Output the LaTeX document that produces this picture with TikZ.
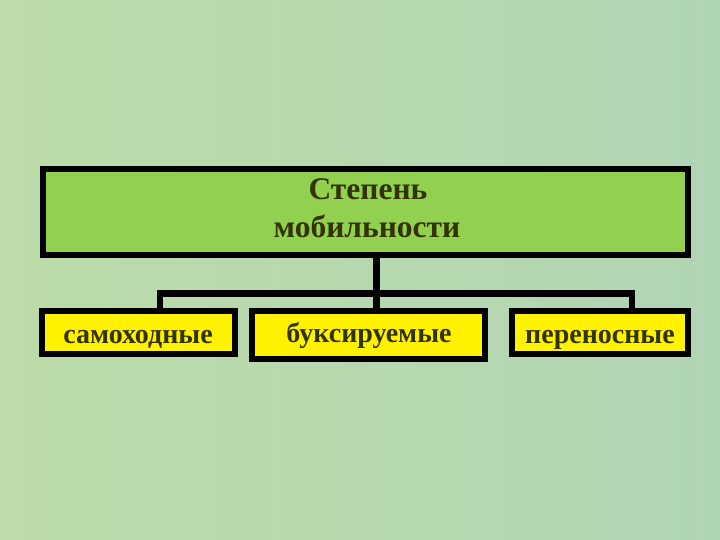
\documentclass[tikz,border=0pt]{standalone}
\usepackage{fontspec}
\setmainfont{Liberation Serif}
\begin{document}
\begin{tikzpicture}[x=1pt,y=-1pt,
  box/.style={draw=black,line width=6pt,inner sep=0pt},
  lbl/.style={anchor=base,inner sep=0pt,text=txt,font=\bfseries\fontsize{28}{32}\selectfont},
  toplbl/.style={lbl,font=\bfseries\fontsize{31.5}{36}\selectfont},
  link/.style={draw=black,line width=6.5pt}]
\definecolor{bg}{RGB}{184,216,174}
\definecolor{bgA}{RGB}{194,222,166}
\definecolor{bgB}{RGB}{172,212,186}
\definecolor{topfill}{RGB}{146,208,80}
\definecolor{txt}{RGB}{51,51,0}
\useasboundingbox (0,0) rectangle (720,540);
\shade[left color=bgA,right color=bgB] (0,0) rectangle (720,540);
\fill[bg,opacity=0.4] (0,0) rectangle (720,540);
\coordinate (j) at (376.5,293.5);
\coordinate (jl) at (160,293.5);
\coordinate (jr) at (632,293.5);
\node[box,fill=topfill,minimum width=645pt,minimum height=86pt] (top) at (365.5,212) {};
\draw[link] (top.south -| j) -- (j);
\draw[link,line cap=rect] (jl) -- (jr);
\node[box,fill=yellow,minimum width=193pt,minimum height=43pt] (l) at (138.5,332.5) {};
\node[box,fill=yellow,minimum width=233pt,minimum height=48pt] (m) at (368.5,335) {};
\node[box,fill=yellow,minimum width=176pt,minimum height=43pt] (r) at (600,332.5) {};
\draw[link] (jl) -- (jl |- l.north);
\draw[link] (j) -- (j |- m.north);
\draw[link] (jr) -- (jr |- r.north);
\node[toplbl] (t1) at (368,200) {Степень};
\node[toplbl] (t2) at (367,237) {мобильности};
\node[lbl] (tl) at (138,343) {самоходные};
\node[lbl] (tm) at (369,342.5) {буксируемые};
\node[lbl] (tr) at (600,343) {переносные};
\end{tikzpicture}
\end{document}
